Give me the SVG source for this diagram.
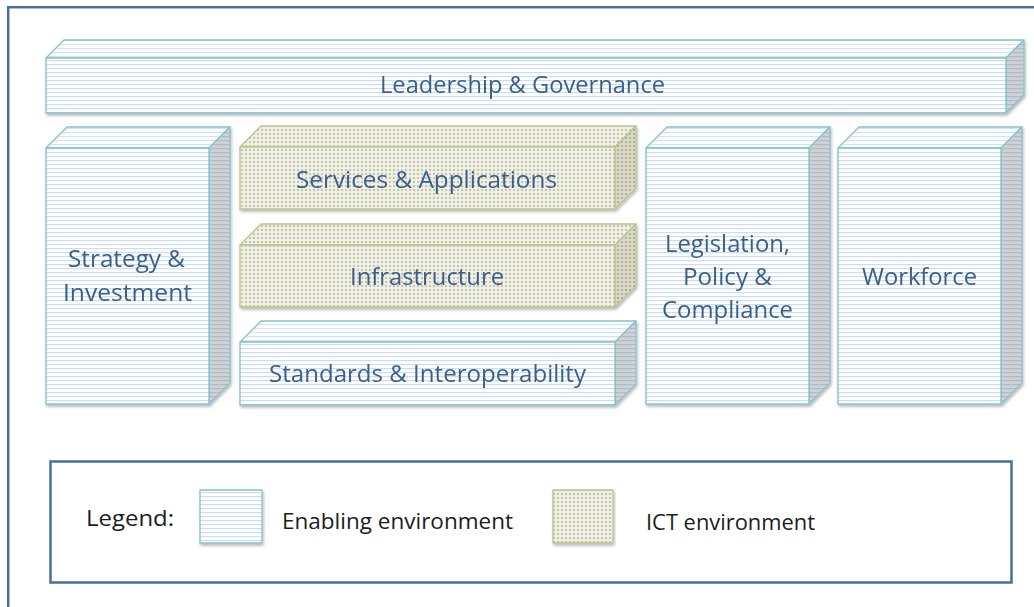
<svg xmlns="http://www.w3.org/2000/svg" width="1034" height="607" viewBox="0 0 1034 607">
<style>
.lbl{font-family:"Open Sans","Liberation Sans",sans-serif;font-size:23.5px;fill:#3a5e8c}
.leg{font-family:"Open Sans","Liberation Sans",sans-serif;font-size:22px;fill:#1c1c1c}
.en{stroke:#88c1cd;stroke-width:1.3;stroke-linejoin:round}
.ict{stroke:#b9c58f;stroke-width:1.3;stroke-linejoin:round}
.frame{fill:none;stroke:#4b6f98;stroke-width:2.5}
</style>
<defs>
<pattern id="stripe" width="8" height="4" patternUnits="userSpaceOnUse">
<rect width="8" height="4" fill="#ffffff"/>
<rect y="0" width="8" height="1.2" fill="#cbdeeb"/>
</pattern>
<pattern id="stripeTop" width="8" height="4" patternUnits="userSpaceOnUse">
<rect width="8" height="4" fill="#fbfdff"/>
<rect y="0" width="8" height="1.1" fill="#d4e4ee"/>
</pattern>
<pattern id="stripeSide" width="8" height="4" patternUnits="userSpaceOnUse">
<rect width="8" height="4" fill="#cdd2d7"/>
<rect y="0" width="8" height="1.2" fill="#b3bac1"/>
</pattern>
<pattern id="dots" width="4" height="4" patternUnits="userSpaceOnUse">
<rect width="4" height="4" fill="#f0f0e2"/>
<rect x="1.5" y="1.5" width="1" height="1" fill="#3e3e38"/>
</pattern>
<pattern id="dotsSide" width="4" height="4" patternUnits="userSpaceOnUse">
<rect width="4" height="4" fill="#d9d9c6"/>
<rect x="1.5" y="1.5" width="1" height="1" fill="#3a3a33"/>
</pattern>
<filter id="sh" x="-5%" y="-5%" width="110%" height="115%">
<feDropShadow dx="1" dy="2" stdDeviation="1.5" flood-color="#000" flood-opacity="0.28"/>
</filter>
</defs>
<rect width="1034" height="607" fill="#ffffff"/>
<rect class="frame" x="8.2" y="7.2" width="1040" height="620"/>

<g id="leadership" filter="url(#sh)">
<polygon class="en" fill="url(#stripeTop)" points="46,58 64,40 1024,40 1006,58"/>
<polygon class="en" fill="url(#stripeSide)" points="1006,58 1024,40 1024,95 1006,113"/>
<rect class="en" fill="url(#stripe)" x="46" y="58" width="960" height="55"/>
<text class="lbl" x="380" y="93" textLength="285" lengthAdjust="spacingAndGlyphs">Leadership &amp; Governance</text>
</g>

<g id="strategy" filter="url(#sh)">
<polygon class="en" fill="url(#stripeTop)" points="46,148 67,127 230,127 209,148"/>
<polygon class="en" fill="url(#stripeSide)" points="209,148 230,127 230,383 209,404"/>
<rect class="en" fill="url(#stripe)" x="46" y="148" width="163" height="256"/>
<text class="lbl" x="68" y="267" textLength="117" lengthAdjust="spacingAndGlyphs">Strategy &amp;</text>
<text class="lbl" x="63" y="301" textLength="129" lengthAdjust="spacingAndGlyphs">Investment</text>
</g>

<g id="services" filter="url(#sh)">
<polygon class="ict" fill="url(#dots)" points="240,147 261,126 636,126 615,147"/>
<polygon class="ict" fill="url(#dotsSide)" points="615,147 636,126 636,188 615,209"/>
<rect class="ict" fill="url(#dots)" x="240" y="147" width="375" height="62"/>
<text class="lbl" x="296" y="188" textLength="261" lengthAdjust="spacingAndGlyphs">Services &amp; Applications</text>
</g>

<g id="infrastructure" filter="url(#sh)">
<polygon class="ict" fill="url(#dots)" points="240,245 261,224 636,224 615,245"/>
<polygon class="ict" fill="url(#dotsSide)" points="615,245 636,224 636,286 615,307"/>
<rect class="ict" fill="url(#dots)" x="240" y="245" width="375" height="62"/>
<text class="lbl" x="350" y="285" textLength="154" lengthAdjust="spacingAndGlyphs">Infrastructure</text>
</g>

<g id="standards" filter="url(#sh)">
<polygon class="en" fill="url(#stripeTop)" points="240,342 261,321 636,321 615,342"/>
<polygon class="en" fill="url(#stripeSide)" points="615,342 636,321 636,384 615,405"/>
<rect class="en" fill="url(#stripe)" x="240" y="342" width="375" height="63"/>
<text class="lbl" x="269" y="382" textLength="317" lengthAdjust="spacingAndGlyphs">Standards &amp; Interoperability</text>
</g>

<g id="legislation" filter="url(#sh)">
<polygon class="en" fill="url(#stripeTop)" points="646,148 667,127 830,127 809,148"/>
<polygon class="en" fill="url(#stripeSide)" points="809,148 830,127 830,383 809,404"/>
<rect class="en" fill="url(#stripe)" x="646" y="148" width="163" height="256"/>
<text class="lbl" x="665" y="252" textLength="125" lengthAdjust="spacingAndGlyphs">Legislation,</text>
<text class="lbl" x="683" y="285" textLength="89" lengthAdjust="spacingAndGlyphs">Policy &amp;</text>
<text class="lbl" x="662" y="318" textLength="131" lengthAdjust="spacingAndGlyphs">Compliance</text>
</g>

<g id="workforce" filter="url(#sh)">
<polygon class="en" fill="url(#stripeTop)" points="838,148 859,127 1022,127 1001,148"/>
<polygon class="en" fill="url(#stripeSide)" points="1001,148 1022,127 1022,383 1001,404"/>
<rect class="en" fill="url(#stripe)" x="838" y="148" width="163" height="256"/>
<text class="lbl" x="862" y="285" textLength="115" lengthAdjust="spacingAndGlyphs">Workforce</text>
</g>

<g id="legend">
<rect class="frame" x="50.5" y="461.5" width="961" height="121"/>
<text class="leg" x="86" y="526" textLength="88" lengthAdjust="spacingAndGlyphs">Legend:</text>
<rect class="en" fill="url(#stripe)" x="200" y="490" width="62" height="53" filter="url(#sh)"/>
<text class="leg" x="282" y="529" textLength="231" lengthAdjust="spacingAndGlyphs">Enabling environment</text>
<rect class="ict" fill="url(#dots)" x="553" y="490" width="60" height="53" filter="url(#sh)"/>
<text class="leg" x="646" y="530" textLength="169" lengthAdjust="spacingAndGlyphs">ICT environment</text>
</g>
</svg>
